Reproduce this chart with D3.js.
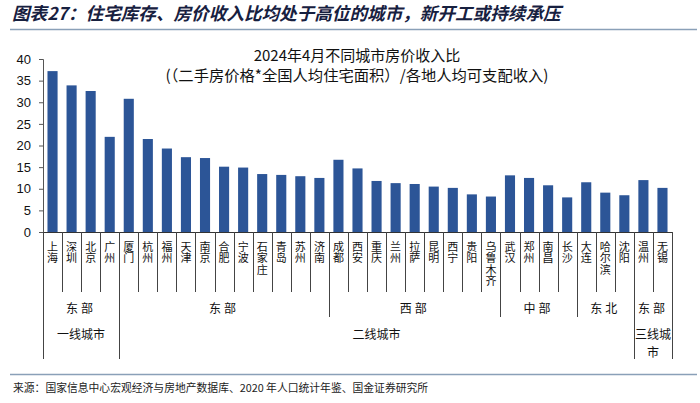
<!DOCTYPE html>
<html><head><meta charset="utf-8">
<script src="https://cdn.jsdelivr.net/npm/d3@7"></script>
<style>
body{margin:0;background:#fff;}
svg{display:block;}
text{font-family:"Noto Sans CJK SC","Noto Sans",sans-serif;}
</style></head>
<body><svg id="c" width="700" height="403"></svg>
<script>
const cities = ["上海","深圳","北京","广州","厦门","杭州","福州","天津","南京","合肥","宁波","石家庄","青岛","苏州","济南","成都","西安","重庆","兰州","拉萨","昆明","西宁","贵阳","乌鲁木齐","武汉","郑州","南昌","长沙","大连","哈尔滨","沈阳","温州","无锡"];
const ratios = [37.2,33.9,32.6,22.0,30.8,21.5,19.3,17.3,17.1,15.1,14.9,13.4,13.2,12.9,12.5,16.7,14.7,11.8,11.3,11.1,10.5,10.2,8.7,8.2,13.1,12.5,10.8,8.0,11.5,9.1,8.5,12.0,10.2];
const regionNames = ["东部","东部","西部","中部","东北","东部"];
const regionCounts = [4,11,9,4,3,2];
const tierNames = ["一线城市","二线城市","三线城市"];
const tierCounts = [4,27,2];
const yTicks = [0,5,10,15,20,25,30,35,40];
const titleLines = ["2024年4月不同城市房价收入比","(（二手房价格*全国人均住宅面积）/各地人均可支配收入)"];
const header = "图表27：住宅库存、房价收入比均处于高位的城市，新开工或持续承压";
const source = "来源：国家信息中心宏观经济与房地产数据库、2020 年人口统计年鉴、国金证券研究所";

const svg = d3.select("#c");
const left = 43, right = 672, y0 = 232, yTop = 59;
const x = d3.scaleBand().domain(cities).range([left,right]).paddingInner(0.47).paddingOuter(0.235);
const y = d3.scaleLinear().domain([0,40]).range([y0,yTop]);
const step = x.step();
const bx = i => left + i*step; // boundary position

// header
svg.append("text").attr("x",12).attr("y",20).attr("font-size",17.6).attr("font-weight","bold")
  .attr("font-style","italic").attr("fill","#17203f").text(header);
svg.append("line").attr("x1",10).attr("x2",697).attr("y1",29.5).attr("y2",29.5).attr("stroke","#8aa0b8").attr("stroke-width",1.5);
// footer
svg.append("line").attr("x1",10).attr("x2",697).attr("y1",374.5).attr("y2",374.5).attr("stroke","#8aa0b8").attr("stroke-width",1.5);
svg.append("text").attr("x",13).attr("y",392).attr("font-size",10.8).attr("fill","#222").text(source);

// title
svg.append("text").attr("text-anchor","middle").attr("fill","#111")
  .attr("x",357).attr("y",61).attr("font-size",15).text(titleLines[0]);
svg.append("text").attr("text-anchor","middle").attr("fill","#111")
  .attr("x",357).attr("y",81).attr("font-size",15.3).text(titleLines[1]);

// bars
svg.append("g").selectAll("rect").data(ratios).join("rect")
  .attr("x",(d,i)=>x(cities[i])).attr("width",x.bandwidth())
  .attr("y",d=>y(d)).attr("height",d=>y0-y(d)).attr("fill","#2c5597");

// y axis
const ya = svg.append("g").attr("transform",`translate(${left},0)`)
  .call(d3.axisLeft(y).tickValues(yTicks).tickSize(4).tickPadding(8));
ya.select(".domain").attr("stroke","#555");
ya.selectAll(".tick line").attr("stroke","#555");
ya.selectAll(".tick text").attr("font-size",13).attr("fill","#111").style("font-family","Liberation Sans, Arial, sans-serif");

// x axis line
svg.append("line").attr("x1",left).attr("x2",right).attr("y1",y0+0.5).attr("y2",y0+0.5).attr("stroke","#333");

// boundaries: compute depth
const regionBounds = new Set(); let acc=0;
regionCounts.forEach(c=>{acc+=c; regionBounds.add(acc);});
const tierBounds = new Set(); acc=0;
tierCounts.forEach(c=>{acc+=c; tierBounds.add(acc);});
const yCity = 292, yRegion = 317, yTier = 359;
const bg = svg.append("g").attr("stroke","#444").attr("stroke-width",1);
for(let i=0;i<=cities.length;i++){
  let bottom = yCity;
  if(i===0 || tierBounds.has(i)) bottom = yTier;
  else if(regionBounds.has(i)) bottom = yRegion;
  const xx = Math.round(bx(i))+0.5;
  bg.append("line").attr("x1",xx).attr("x2",xx).attr("y1",y0).attr("y2",bottom);
}

// city labels vertical (writing-mode)
const lg = svg.append("g").attr("fill","#111");
cities.forEach((c,i)=>{
  lg.append("text").attr("x",x(c)+x.bandwidth()/2).attr("y",y0+9)
    .style("writing-mode","vertical-rl").style("text-orientation","upright")
    .attr("font-size",11).attr("letter-spacing",0.5).text(c);
});

// region labels
let start=0;
regionNames.forEach((r,j)=>{
  const a=bx(start), b=bx(start+regionCounts[j]);
  svg.append("text").attr("x",(a+b)/2).attr("y",313).attr("text-anchor","middle")
    .attr("font-size",12).attr("fill","#111").attr("letter-spacing",3).text(r);
  start+=regionCounts[j];
});
// tier labels with wrapping
start=0;
tierNames.forEach((t,j)=>{
  const a=bx(start), b=bx(start+tierCounts[j]);
  const perLine = Math.max(1,Math.floor((b-a)/12.5));
  const chars=[...t]; const lines=[];
  for(let k=0;k<chars.length;k+=perLine) lines.push(chars.slice(k,k+perLine).join(""));
  lines.forEach((ln,k)=>svg.append("text").attr("text-anchor","middle").attr("font-size",12).attr("fill","#111")
    .attr("x",(a+b)/2).attr("y",339+k*18).text(ln));
  start+=tierCounts[j];
});
</script></body></html>
